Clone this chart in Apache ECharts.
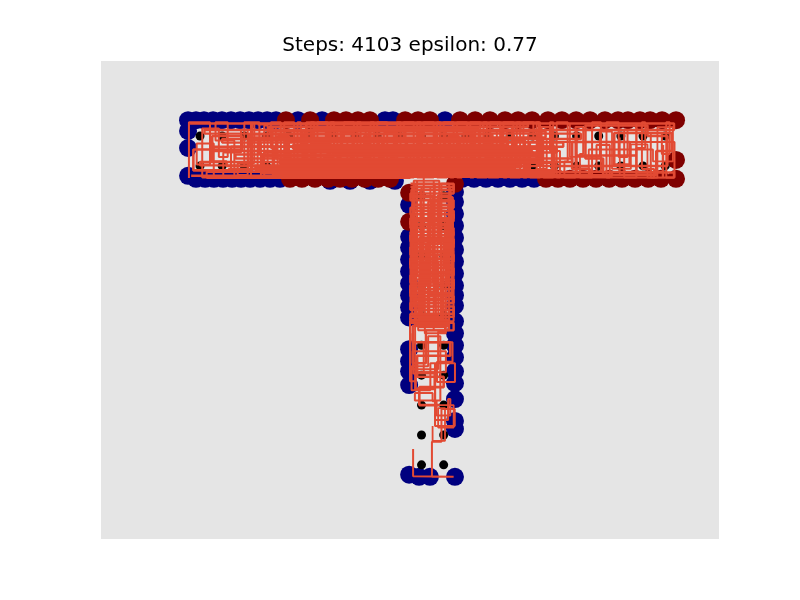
<!DOCTYPE html>
<html>
<head>
<meta charset="utf-8">
<script src="https://cdn.jsdelivr.net/npm/echarts@6/dist/echarts.min.js"></script>
<style>html,body{margin:0;padding:0;background:#fff;}#c{width:800px;height:600px;}</style>
</head>
<body>
<div id="c"></div>
<script>
// ---- data (maze cells in column / row units, row 0 at top) ----
const titleText = 'Steps: 4103 epsilon: 0.77';

const barCols = [0,1,2,3,4,5,6,7,8,9,10,11,12,13,14,15,16,17,18,19,20,21];
const barRows = [0,1];
const stemCols = [10,11];
const stemRows = [2,3,4,5,6,7,8,9,10,11];

// wall hits coloured navy
const blueWalls = [
  [-0.54,-0.53],[-0.54,-0.17],[-0.54,0.4],[-0.54,1.33],
  [-0.18,-0.53],[0.18,-0.53],[0.59,-0.53],[0.99,-0.53],[1.4,-0.53],[1.81,-0.53],[2.21,-0.53],
  [2.62,-0.53],[3.03,-0.53],[3.43,-0.53],[4.42,-0.53],[5.51,-0.53],[8.35,-0.53],[8.71,-0.53],[11.06,-0.53],
  [-0.18,1.43],[0.23,1.43],[0.63,1.43],[1.04,1.43],[1.45,1.43],[1.85,1.43],[2.26,1.43],[2.71,1.43],[3.16,1.43],[3.61,1.43],
  [5.87,1.5],[6.77,1.5],[7.67,1.5],[8.8,1.5],
  [11.83,1.43],[12.37,1.43],[12.91,1.43],[13.45,1.43],[13.99,1.43],[14.54,1.43],[15.08,1.43],
  [9.44,2.3],[9.44,3.37],[9.44,3.73],[9.44,4.13],[9.44,4.53],[9.44,4.93],[9.44,5.33],[9.44,5.73],[9.44,6.07],
  [9.44,7.13],[9.44,7.53],[9.44,7.87],[9.44,8.33],[9.44,11.33],
  [11.51,1.87],[11.51,2.2],[11.51,2.6],[11.51,3.0],[11.51,3.4],[11.51,3.8],[11.51,4.2],[11.51,4.6],[11.51,5.0],
  [11.51,5.33],[11.51,5.67],[11.51,6.2],[11.51,6.6],[11.51,7.0],[11.51,7.4],[11.51,7.87],[11.51,8.27],[11.51,8.8],
  [11.51,9.53],[11.51,9.8],[11.51,11.4],
  [9.89,11.4],[10.38,11.4]
];

// wall hits coloured dark red
const redWalls = [
  [3.88,-0.53],[4.97,-0.53],[6.05,-0.53],[6.59,-0.53],[7.13,-0.53],[7.67,-0.53],[9.26,-0.53],[9.84,-0.53],
  [10.38,-0.53],[11.74,-0.53],[12.42,-0.53],[13.09,-0.53],[13.77,-0.53],[14.36,-0.53],[14.99,-0.53],[15.71,-0.53],
  [16.34,-0.53],[16.98,-0.53],[17.61,-0.53],[18.28,-0.53],[18.87,-0.53],[19.32,-0.53],[19.86,-0.53],[20.32,-0.53],
  [20.86,-0.53],[21.49,-0.53],
  [4.06,1.43],[4.6,1.43],[5.19,1.43],[5.78,1.43],[6.32,1.43],[6.86,1.43],[7.45,1.43],[8.04,1.43],[8.58,1.43],
  [15.62,1.43],[16.16,1.43],[16.7,1.43],[17.29,1.43],[17.88,1.43],[18.47,1.43],[19.05,1.43],[19.64,1.43],
  [20.23,1.43],[20.81,1.43],[21.49,1.43],[21.49,0.8],
  [9.44,1.9],[9.44,2.87],[11.51,1.6]
];

// walk in the bar: start x, start y, then alternately a new x (horizontal move) and a new y (vertical move)
const barWalk = [
  -0.5,1.4,
  -0.5,-0.46, 0.45,0.95, -0.15,0.25, 0.62,1.39, 0.1,-0.25, 0.85,0.7, 1.25,-0.46, 0.7,0.15,
  1.55,1.39, 1.05,0.55, 1.85,-0.2, 2.15,1.3, 1.7,0.9, 2.45,-0.46, 2.3,1.39, 2.75,0.2,
  2.6,1.1, 3.05,-0.35, 2.9,1.39, 3.35,0.4, 3.2,-0.46, 3.65,1.39, 3.5,0.0, 3.95,1.2,
  3.8,-0.46, 4.25,1.39, 4.1,0.5, 4.55,-0.46, 4.4,1.39, 4.85,-0.1, 4.7,1.3, 5.15,-0.46,
  5.0,1.39, 5.45,0.3, 5.3,-0.46, 5.75,1.39, 5.6,0.7, 6.05,-0.46, 5.9,1.39, 6.35,-0.2,
  6.2,1.39, 6.65,0.1, 6.5,-0.46, 6.95,1.39, 6.8,0.45, 7.25,-0.46, 7.1,1.39, 7.55,0.0,
  7.4,1.25, 7.85,-0.46, 7.7,1.39, 8.15,0.6, 8.0,-0.46, 8.45,1.39, 8.3,-0.1, 8.75,1.39,
  8.6,0.3, 9.05,-0.46, 8.9,1.39, 9.35,0.2, 9.2,-0.46, 9.65,1.39, 9.5,0.55, 9.95,-0.46,
  9.8,1.39, 10.25,0.1, 10.1,-0.46, 10.55,1.39, 10.4,0.8, 10.85,-0.46, 10.7,1.39, 11.15,0.35,
  11.0,-0.46, 11.45,1.39, 11.3,0.05, 11.75,1.39, 11.6,-0.46, 12.05,1.2, 11.9,-0.1, 12.35,1.39,
  12.2,-0.46, 12.65,0.9, 12.5,1.39, 12.95,-0.46, 12.8,0.6, 13.25,1.39, 13.1,-0.46, 13.55,1.0,
  13.4,-0.2, 13.85,1.39, 13.7,-0.46, 14.15,0.4, 14.0,1.39, 14.45,-0.46, 14.3,0.75, 14.75,1.39,
  14.6,-0.46, 15.05,0.2, 14.9,1.39, 15.35,-0.46, 15.2,1.1, 15.65,0.1, 15.5,1.39, 15.95,-0.46,
  15.8,0.5, 16.25,1.39, 16.1,-0.46, 16.6,0.85, 16.45,1.39, 16.95,-0.3, 17.3,0.6, 17.15,1.39,
  17.7,-0.46, 18.1,1.2, 17.9,0.3, 18.5,1.39, 18.35,-0.46, 18.9,0.7, 19.3,-0.2, 19.15,1.39,
  19.7,0.4, 20.1,-0.46, 19.95,1.1, 20.5,1.39, 20.35,-0.1, 20.85,0.6, 21.2,-0.46, 21.05,1.39,
  21.42,0.2, 4.0,0.9, 16.0,1.25, 15.88,-0.3, 15.42,0.95, 15.28,-0.05, 14.82,1.3, 14.68,0.15,
  14.22,1.2, 14.08,-0.3, 13.62,0.65, 13.48,1.39, 13.02,0.1, 12.88,1.25, 12.42,-0.3, 12.28,0.8,
  11.82,1.39, 11.68,0.0, 11.22,1.2, 11.08,-0.3, 10.62,0.5, 10.48,1.39, 10.02,-0.2, 9.88,0.9,
  9.42,1.39, 9.28,-0.3, 8.82,0.7, 8.68,1.39, 8.22,0.05, 8.08,1.2, 7.62,-0.3, 7.48,0.85,
  7.02,1.39, 6.88,-0.1, 6.42,0.6, 6.28,1.39, 5.82,-0.3, 5.68,0.25, 5.22,1.2, 5.08,-0.2,
  4.62,0.9, 4.48,1.39, 4.02,0.0, 3.88,0.75, 3.42,-0.3, 3.28,1.25, 2.82,0.6, 2.68,-0.46,
  2.0,1.0, 2.2,0.35, 1.4,1.2, 0.3,1.4, 9.5,1.4
];

// later wandering in the bar, mostly sideways moves
const barSweep = [
  2.6,-0.4,
  14.8,-0.3, 3.1,-0.15, 15.6,0.05, 2.4,0.15, 13.9,0.3, 4.2,0.42, 16.1,0.55, 2.9,0.68,
  15.2,0.8, 3.6,0.92, 14.5,1.05, 2.5,1.15, 15.9,1.27, 3.3,1.36, 12.6,-0.22, 5.1,1.2,
  16.0,0.35, 2.2,-0.05, 13.2,0.95, 6.0,0.6, 15.3,-0.45, 4.8,1.3, 17.6,1.1, 16.8,0.2,
  19.4,0.95, 18.7,-0.1, 21.3,0.5, 20.6,1.3, 18.2,0.75, 17.4,-0.35, 20.2,0.0, 21.1,1.0,
  1.2,0.85, 0.55,0.0, 1.9,0.45, -0.3,1.15, 2.35,-0.4
];
const barSweep2 = [
  -0.45,-0.42,
  21.4,-0.2, 0.2,-0.08, 17.2,0.1, 1.0,0.22, 16.4,0.36, 0.6,0.5, 15.0,0.62, 1.6,0.75,
  16.8,0.87, 0.0,0.98, 14.2,1.1, 1.3,1.2, 18.6,1.33, -0.4,1.39, 21.4,1.22, 19.7,-0.42,
  19.7,0.65, 17.0,-0.25, 17.0,1.2, 20.9,0.3, 20.9,1.39
];
// a few more moves at the far right end of the bar
const barRight = [
  16.7,-0.42,
  16.7,0.7, 18.05,-0.15, 18.6,1.1, 19.45,0.28, 20.2,1.39, 20.65,-0.3, 21.35,0.85, 20.45,0.45,
  17.55,1.3, 18.95,0.05
];

// walk in the stem, same layout
const stemWalk = [
  10.1,1.4,
  10.1,5.8, 9.5,3.2, 11.45,6.2, 9.7,2.0, 10.5,4.9, 9.85,6.5, 11.25,1.6, 10.9,5.5,
  9.6,4.4, 11.05,2.5, 10.35,6.0, 9.95,1.8, 11.32,4.0, 10.65,6.3, 9.75,2.8, 11.15,5.0,
  10.2,3.6, 10.8,1.5, 9.65,5.6, 11.4,2.2, 10.45,3.0, 10.28,6.4, 11.0,3.4, 9.9,5.2,
  10.72,2.0, 11.22,6.5, 10.55,1.5, 9.8,4.7, 10.95,6.1, 10.05,2.4, 11.36,5.3, 10.4,1.7,
  9.58,6.0, 10.76,4.2, 10.15,6.6, 11.1,3.0, 9.7,1.6, 10.6,5.7, 9.52,2.6, 11.42,4.6,
  10.3,2.2, 10.88,6.4, 9.92,3.9, 11.28,1.7, 10.0,6.2,
  9.48,8.2, 9.71,6.3, 11.06,6.55, 10.75,7.8, 9.6,7.2, 11.1,7.9, 9.71,8.47, 10.61,7.9,
  10.1,6.9, 11.4,7.55, 10.7,8.23, 11.51,7.6, 10.4,8.5, 9.55,7.7, 10.3,6.7, 10.85,8.85,
  9.7,8.6, 10.5,8.87, 10.68,9.35, 11.3,8.8, 11.2,9.5, 10.61,7.57, 10.61,9.7, 11.5,9.13,
  10.9,10.23, 10.47,11.4, 11.45,11.38, 9.62,10.47
];

// later wandering in the stem, mostly sideways moves
const stemSweep = [
  9.5,1.6,
  11.45,1.8, 9.55,2.05, 11.4,2.3, 9.6,2.5, 11.45,2.75, 9.5,2.95, 11.3,3.2, 9.52,3.45,
  11.45,3.6, 9.7,3.85, 11.42,4.1, 9.5,4.3, 11.35,4.55, 9.58,4.8, 11.45,5.0, 9.5,5.25,
  11.4,5.45, 9.65,5.7, 11.45,5.95, 9.5,6.15, 11.2,6.35, 9.6,6.9, 11.3,7.35, 9.8,8.05,
  11.0,8.4, 9.9,9.0, 10.8
];
const stemSweep2 = [
  9.5,1.7,
  11.45,1.92, 9.5,2.15, 11.45,2.4, 9.5,2.62, 11.45,2.85, 9.5,3.08, 11.45,3.32, 9.5,3.52,
  11.45,3.72, 9.5,3.97, 11.45,4.2, 9.5,4.42, 11.45,4.66, 9.5,4.9, 11.45,5.12, 9.5,5.36,
  11.45,5.58, 9.5,5.82, 11.45,6.05, 9.5,6.25, 11.45,6.5, 10.2,7.6, 9.6,6.6
];
// extra moves in the middle of the stem
const stemMid = [
  9.62,6.5,
  9.62,7.95, 10.58,8.45, 9.75,7.9, 10.62,9.0, 11.45,9.75, 10.75,9.1, 11.06,10.2, 10.5,9.7
];

// ---- build ----
function walkPoints(w) {
  const pts = [[w[0], w[1]]];
  let x = w[0], y = w[1];
  for (let i = 2; i < w.length; i++) {
    if (i % 2 === 0) { x = w[i]; } else { y = w[i]; }
    pts.push([x, y]);
  }
  return pts;
}
const cells = [];
barRows.forEach(r => barCols.forEach(c => cells.push([c, r])));
stemRows.forEach(r => stemCols.forEach(c => cells.push([c, r])));

const chart = echarts.init(document.getElementById('c'), null, {renderer: 'canvas'});
function walkSeries(w, width) {
  return {type: 'line', data: walkPoints(w), showSymbol: false, symbol: 'none',
          lineStyle: {color: '#e24a33', width: width, opacity: 1},
          silent: true, z: 4, progressive: 0};
}
chart.setOption({
  animation: false,
  title: {
    text: titleText, left: 410, top: 36, padding: 0, textAlign: 'center',
    textStyle: {fontFamily: 'DejaVu Sans', fontSize: 20, fontWeight: 'normal', color: '#000'}
  },
  grid: {left: 101, top: 61, width: 618, height: 478, show: true, backgroundColor: '#e5e5e5', borderWidth: 0},
  xAxis: {type: 'value', min: -4.47, max: 23.43, show: false},
  yAxis: {type: 'value', min: -2.51, max: 13.48, inverse: true, show: false},
  series: [
    {type: 'scatter', data: blueWalls, symbolSize: 18, itemStyle: {color: '#00007f', opacity: 1}, silent: true, z: 1},
    {type: 'scatter', data: redWalls, symbolSize: 18, itemStyle: {color: '#7f0000', opacity: 1}, silent: true, z: 2},
    {type: 'scatter', data: cells, symbolSize: 9, itemStyle: {color: '#000000', opacity: 1}, silent: true, z: 3},
    walkSeries(barWalk, 2.0),
    walkSeries(barSweep, 2.6),
    walkSeries(barSweep2, 2.4),
    walkSeries(barRight, 1.8),
    walkSeries(stemWalk, 2.0),
    walkSeries(stemSweep, 2.6),
    walkSeries(stemSweep2, 2.4),
    walkSeries(stemMid, 1.8)
  ]
});
</script>
</body>
</html>
